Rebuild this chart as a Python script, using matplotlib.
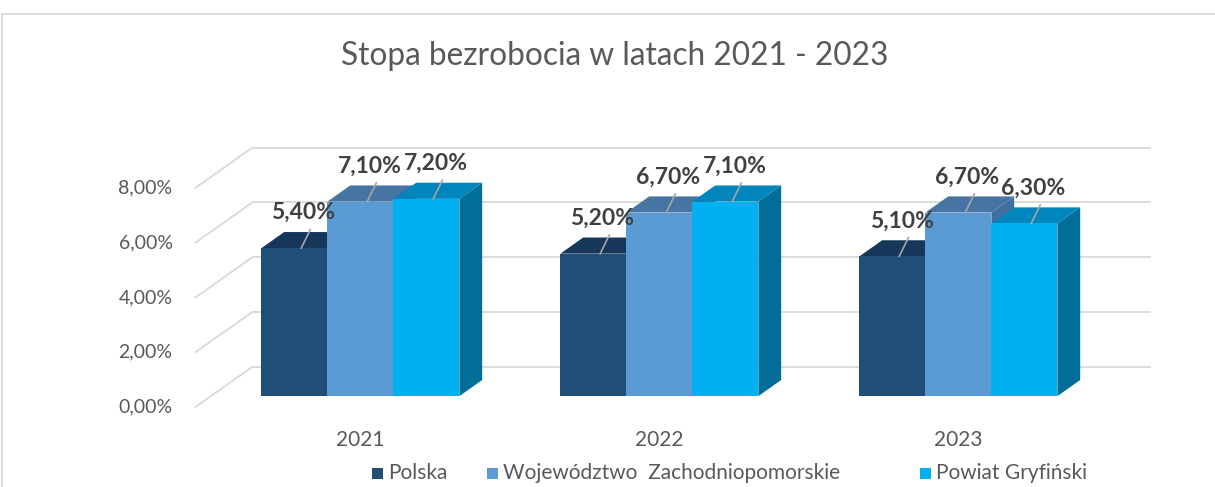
import matplotlib
matplotlib.use("Agg")
import matplotlib.pyplot as plt
from matplotlib.patches import Polygon, Rectangle

# ---- data ----
years = ["2021", "2022", "2023"]
series_names = ["Polska", "Województwo  Zachodniopomorskie", "Powiat Gryfiński"]
polska = [5.40, 5.20, 5.10]
wojewodztwo = [7.10, 6.70, 6.70]
powiat = [7.20, 7.10, 6.30]
y_ticks = [0, 2, 4, 6, 8]

# ---- style ----
front_cols = ["#1F4E79", "#5B9BD5", "#00B0F0"]
top_cols = ["#17375A", "#4674A3", "#0085BC"]
side_cols = ["#163757", "#41709F", "#006E98"]
FONT = "Lato"

W, H = 1215, 487
PX_CAT, PX_PCT = 299.0, 27.4
X0_PX, Y0_PX = 345.0, 407.0

fig = plt.figure(figsize=(W / 100, H / 100), dpi=100)
ax = fig.add_axes([0, 0, 1, 1])
ax.set_xlim(-X0_PX / PX_CAT, (W - X0_PX) / PX_CAT)
ax.set_ylim(-(H - Y0_PX) / PX_PCT, Y0_PX / PX_PCT)
ax.axis("off")

# depth (oblique) of the floor/walls
DX = 57 / PX_CAT
DY = 40.3 / PX_PCT
D_FRONT, D_BACK = 0.27, 0.67
BW = 66 / PX_CAT

grid_c = "#D9D9D9"
xl, xr = -0.5, len(years) - 0.5
for v in y_ticks:
    ax.plot([xl + DX, xr + DX], [v + DY, v + DY], color=grid_c, lw=1.3, zorder=1)
    ax.plot([xl, xl + DX], [v, v + DY], color=grid_c, lw=1.3, zorder=1)
    ax.text(xl - 23 / PX_CAT, v, f"{v:.2f}%".replace(".", ","), ha="right", va="center",
            fontsize=14, color="#595959", family=FONT)

series = [polska, wojewodztwo, powiat]
z = 2
for i, yr in enumerate(years):
    cx = i + D_FRONT * DX
    for j, vals in enumerate(series):
        v = vals[i]
        x1 = cx - 1.5 * BW + j * BW
        x2 = x1 + BW
        yb = D_FRONT * DY
        yt = v + D_FRONT * DY
        ddx = (D_BACK - D_FRONT) * DX
        ddy = (D_BACK - D_FRONT) * DY
        side = Polygon([(x2, yb), (x2 + ddx, yb + ddy), (x2 + ddx, yt + ddy), (x2, yt)],
                       closed=True, fc=side_cols[j], ec="none", zorder=z)
        top = Polygon([(x1, yt), (x1 + ddx, yt + ddy), (x2 + ddx, yt + ddy), (x2, yt)],
                      closed=True, fc=top_cols[j], ec="none", zorder=z + 1)
        front = Rectangle((x1, yb), BW, v, fc=front_cols[j], ec="none", zorder=z + 2)
        ax.add_patch(side)
        ax.add_patch(top)
        ax.add_patch(front)
        z += 3
        # label with leader line
        lx = (x1 + x2) / 2 + 0.4 * ddx
        ly = yt + 1.3
        ax.plot([lx - 0.1 * ddx, lx + 0.3 * ddx], [yt, ly - 0.62], color="#A6A6A6", lw=1.2, zorder=100)
        ax.text(lx, ly, f"{v:.2f}%".replace(".", ","), ha="center", va="center",
                fontsize=16.5, fontweight="bold", color="#404040", family=FONT, zorder=101)
    ax.text(i + D_FRONT * DX, -1.2, yr, ha="center", va="center", fontsize=15,
            color="#595959", family=FONT)

fig.text(615 / W, 1 - 56 / H, "Stopa bezrobocia w latach 2021 - 2023", ha="center", va="center",
         fontsize=22.8, color="#595959", family=FONT)

# legend (manual placement like the original)
leg_sq_x = [372, 487, 920]
leg_y = 473
for c, name, sx in zip(front_cols, series_names, leg_sq_x):
    fig.patches.append(Rectangle((sx / W, 1 - (leg_y + 5.5) / H), 11 / W, 11 / H,
                                 transform=fig.transFigure, fc=c, ec="none"))
    fig.text((sx + 16) / W, 1 - leg_y / H, name, ha="left", va="center", fontsize=15,
             color="#595959", family=FONT)

# outer chart frame
fig.patches.append(Rectangle((2 / W, -0.1), 1.1, 1 - 14 / H + 0.1, transform=fig.transFigure,
                             fill=False, ec="#D9D9D9", lw=1.3, zorder=0))

fig.savefig("out.png", dpi=100)
